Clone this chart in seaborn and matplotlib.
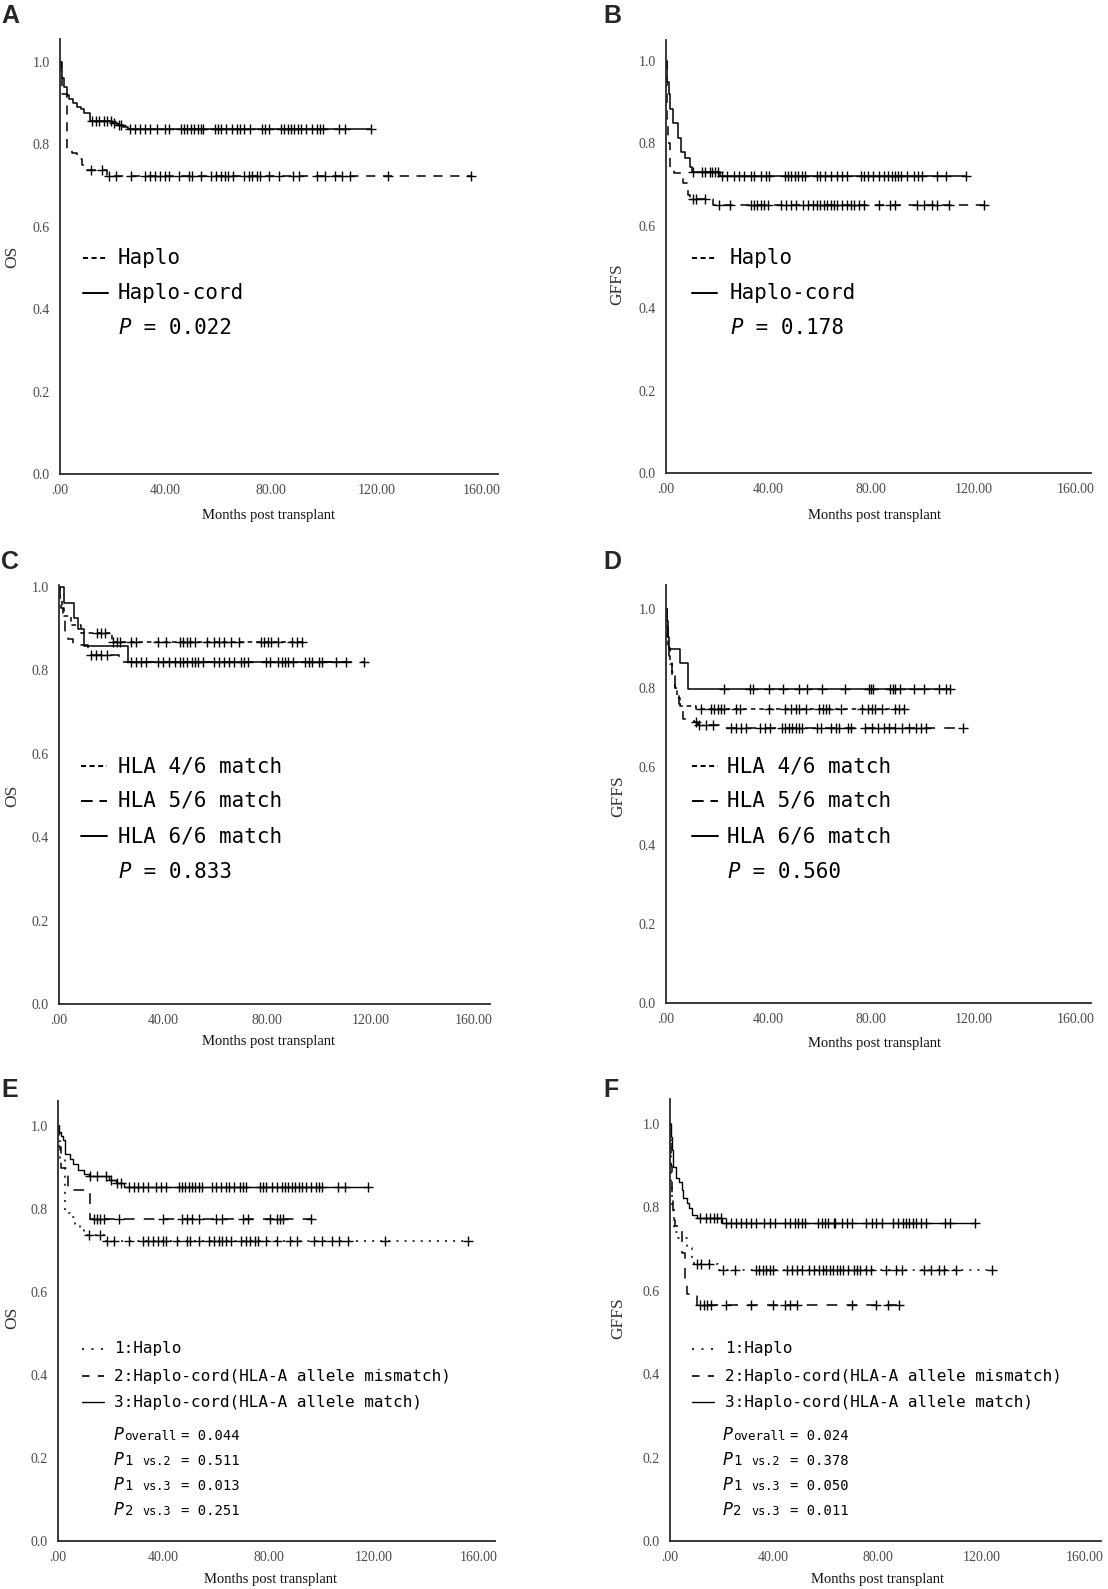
import matplotlib
matplotlib.use("Agg")
import matplotlib.pyplot as plt
from matplotlib.lines import Line2D
import numpy as np
import seaborn as sns

sns.set_style("white")
plt.rcParams['font.family'] = ['DejaVu Sans']

# ---------------- data ----------------
x_ticks = [0, 40, 80, 120, 160]
x_tick_labels = ['.00', '40.00', '80.00', '120.00', '160.00']
y_ticks = [0.0, 0.2, 0.4, 0.6, 0.8, 1.0]
y_tick_labels = ['0.0', '0.2', '0.4', '0.6', '0.8', '1.0']

# OS, Haplo (panels A and E)
os_haplo_t = [0.6, 2.8, 4.5, 6.5, 8.4, 10.0, 18.0]
os_haplo_s = [0.923, 0.79, 0.78, 0.765, 0.75, 0.738, 0.723]
os_haplo_c = [11.6, 16.1, 18.7, 21.3, 27.1, 32.2, 34.1, 36.1, 38.0, 39.9, 41.2, 45.1, 48.9,
              50.2, 53.5, 57.3, 59.3, 61.2, 62.5, 63.8, 65.7, 69.6, 71.5, 72.8, 74.7, 76.0,
              79.2, 83.1, 88.2, 90.8, 97.3, 100.5, 104.3, 106.9, 110.1, 124.3, 155.9]

# OS, Haplo-cord (panel A)
os_cord_t = [0.3, 0.8, 1.5, 2.5, 3.5, 5.0, 6.5, 8.0, 9.0, 11.5, 19.8, 21.5, 23.8, 25.8]
os_cord_s = [0.98, 0.96, 0.94, 0.92, 0.91, 0.90, 0.89, 0.885, 0.876, 0.858, 0.853, 0.848, 0.843, 0.838]
os_cord_c = [12.0, 13.5, 14.8, 16.7, 18.0, 19.3, 20.6, 22.2, 23.2, 26.4, 28.3, 30.3, 32.2, 34.1,
             36.7, 39.9, 41.2, 45.7, 47.0, 48.3, 49.6, 50.9, 52.2, 53.5, 54.1, 58.6, 59.9, 61.2,
             63.1, 65.1, 67.0, 68.3, 69.6, 72.1, 76.6, 77.9, 79.2, 83.7, 85.0, 86.3, 87.6, 88.9,
             90.2, 91.5, 93.4, 95.4, 97.3, 98.6, 99.8, 105.6, 108.2, 117.9]

# GFFS, Haplo (panels B and F)
gffs_haplo_t = [0.2, 0.8, 1.5, 3.2, 6.6, 8.6, 9.3, 18.5]
gffs_haplo_s = [0.86, 0.80, 0.74, 0.727, 0.703, 0.675, 0.665, 0.65]
gffs_haplo_c = [10.6, 11.9, 15.2, 20.5, 25.1, 33.1, 34.4, 35.7, 37.0, 38.4, 39.7, 45.0, 47.0,
                48.9, 50.9, 53.6, 55.6, 57.5, 58.9, 60.2, 61.5, 62.8, 64.2, 65.5, 66.8, 68.8,
                70.8, 72.1, 73.4, 75.4, 77.4, 83.3, 87.3, 89.3, 97.9, 100.5, 103.8, 105.8,
                110.4, 124.0]

# GFFS, Haplo-cord (panel B)
gffs_cord_t = [0.3, 1.0, 1.6, 2.6, 4.6, 6.0, 7.3, 9.3, 10.2, 21.2]
gffs_cord_s = [0.95, 0.92, 0.883, 0.85, 0.813, 0.78, 0.764, 0.743, 0.73, 0.72]
gffs_cord_c = [10.6, 13.9, 15.2, 17.2, 18.1, 19.2, 20.1, 21.8, 23.8, 26.5, 28.4, 30.4, 33.1,
               34.4, 37.0, 39.0, 40.3, 46.3, 47.6, 48.9, 50.3, 51.6, 52.9, 54.2, 58.9, 60.2,
               62.2, 64.2, 66.8, 68.8, 70.8, 76.1, 77.4, 78.7, 80.7, 83.3, 84.9, 86.6, 88.0,
               89.3, 90.6, 91.9, 93.9, 96.6, 98.5, 99.9, 105.8, 109.1, 117.0]

# OS by HLA match (panel C)
os_46_t = [0.5, 1.2, 2.0, 4.8, 8.5, 20.4]
os_46_s = [0.97, 0.95, 0.93, 0.91, 0.89, 0.867]
os_46_c = [14.5, 16.2, 17.8, 21.0, 22.4, 23.7, 27.6, 29.5, 38.0, 41.3, 46.5, 47.8, 49.2, 50.5,
           52.5, 57.0, 59.7, 61.6, 63.5, 66.2, 69.4, 77.9, 79.2, 80.5, 81.8, 84.4, 89.7, 91.6, 93.6]
os_56_t = [0.3, 0.8, 1.5, 2.5, 3.5, 5.5, 11.3, 23.0]
os_56_s = [0.97, 0.95, 0.925, 0.89, 0.875, 0.86, 0.836, 0.82]
os_56_c = [12.5, 14.2, 16.2, 18.4, 29.5, 31.5, 38.0, 42.6, 46.5, 49.2, 52.5, 55.7, 61.6, 65.5,
           70.0, 72.7, 81.2, 85.8, 88.4, 95.0, 97.5, 100.2, 106.7, 117.5]
os_66_t = [2.1, 5.8, 7.3, 9.7, 26.7]
os_66_s = [0.962, 0.926, 0.90, 0.858, 0.82]
os_66_c = [27.6, 33.5, 40.0, 44.6, 47.8, 51.1, 53.7, 59.7, 63.5, 67.5, 71.4, 79.9, 84.4, 87.1,
           90.4, 96.2, 101.4, 110.6]

# GFFS by HLA match (panel D)
gffs_46_t = [0.2, 0.5, 0.8, 1.6, 2.2, 3.5, 4.3, 5.3, 11.6]
gffs_46_s = [0.97, 0.93, 0.90, 0.86, 0.83, 0.80, 0.775, 0.755, 0.745]
gffs_46_c = [13.6, 17.6, 18.9, 20.2, 21.5, 22.8, 27.5, 28.8, 40.0, 46.6, 48.6, 50.6, 51.9, 54.5,
             59.8, 61.1, 62.4, 63.8, 68.4, 76.3, 78.9, 80.3, 81.6, 84.2, 89.5, 90.8, 92.8]
gffs_56_t = [0.3, 0.6, 1.2, 2.5, 3.7, 5.0, 6.5, 10.9, 12.5, 21.5]
gffs_56_s = [0.96, 0.92, 0.88, 0.84, 0.80, 0.76, 0.72, 0.713, 0.706, 0.698]
gffs_56_c = [11.6, 13.0, 15.5, 18.5, 25.5, 27.5, 29.4, 31.4, 36.7, 38.7, 40.7, 45.3, 46.6, 47.9,
             49.2, 50.6, 51.9, 53.2, 59.1, 60.5, 64.4, 66.4, 67.7, 71.0, 72.3, 77.6, 80.3, 82.9,
             84.9, 86.9, 89.5, 92.1, 94.8, 97.4, 99.4, 101.4, 116.0]
gffs_66_t = [0.3, 0.7, 1.1, 5.3, 8.7]
gffs_66_s = [0.97, 0.93, 0.898, 0.864, 0.796]
gffs_66_c = [22.8, 32.7, 34.1, 40.0, 45.7, 51.9, 55.2, 60.9, 69.7, 79.2, 80.0, 80.9, 87.5, 88.4,
             89.5, 91.5, 96.8, 100.7, 106.7, 109.3, 111.0]

# OS, Haplo-cord split by HLA-A allele (panel E)
os_mis_t = [0.3, 1.0, 3.9, 12.3]
os_mis_s = [0.95, 0.90, 0.846, 0.777]
os_mis_c = [13.5, 14.8, 16.1, 17.4, 23.2, 39.9, 47.0, 48.9, 50.9, 53.5, 59.9, 62.5, 70.2, 72.2,
            80.5, 83.1, 84.4, 85.7, 96.0]
os_match_t = [0.5, 1.2, 1.9, 2.6, 4.5, 5.8, 7.7, 9.7, 11.6, 19.3, 21.9, 25.1]
os_match_s = [0.985, 0.975, 0.967, 0.933, 0.92, 0.908, 0.893, 0.885, 0.879, 0.87, 0.862, 0.854]
os_match_c = [12.3, 14.8, 18.1, 20.1, 22.6, 24.0, 27.1, 29.0, 30.3, 32.2, 34.2, 37.4, 39.3, 41.2,
              45.8, 47.0, 48.3, 49.6, 50.9, 52.2, 53.5, 54.8, 58.6, 59.9, 61.8, 63.8, 65.1, 67.0,
              69.0, 70.2, 71.5, 76.7, 77.9, 79.2, 81.2, 83.1, 85.0, 86.3, 87.6, 88.9, 90.2, 91.5,
              92.8, 94.1, 96.0, 97.9, 99.2, 100.5, 106.3, 108.9, 117.9]

# GFFS, Haplo-cord split by HLA-A allele (panel F)
gffs_mis_t = [0.2, 0.6, 1.3, 2.0, 4.5, 5.8, 6.5, 10.4]
gffs_mis_s = [0.90, 0.82, 0.77, 0.755, 0.69, 0.62, 0.593, 0.565]
gffs_mis_c = [11.7, 13.0, 14.3, 15.9, 21.5, 31.2, 39.7, 44.2, 46.2, 48.8, 70.0, 79.3, 83.9, 88.4]
gffs_match_t = [0.26, 0.65, 1.3, 2.3, 3.6, 4.6, 5.2, 6.5, 7.5, 8.5, 10.4, 20.2]
gffs_match_s = [0.97, 0.938, 0.898, 0.87, 0.862, 0.842, 0.822, 0.81, 0.798, 0.782, 0.775, 0.763]
gffs_match_c = [11.4, 13.7, 15.6, 16.9, 18.2, 19.5, 21.5, 23.4, 25.4, 27.3, 29.3, 31.2, 33.2,
                36.4, 38.4, 40.3, 44.2, 46.2, 48.1, 49.4, 50.7, 52.0, 57.2, 58.5, 59.8, 61.1,
                63.1, 63.7, 66.3, 68.3, 70.2, 75.4, 78.0, 79.3, 81.9, 85.8, 87.8, 89.7, 91.0,
                92.3, 93.6, 94.9, 96.9, 98.8, 106.0, 107.9, 117.7]

two_group_labels = ['Haplo', 'Haplo-cord']
hla_labels = ['HLA 4/6 match', 'HLA 5/6 match', 'HLA 6/6 match']
allele_labels = ['1:Haplo', '2:Haplo-cord(HLA-A allele mismatch)', '3:Haplo-cord(HLA-A allele match)']
p_two = {'A': '0.022', 'B': '0.178', 'C': '0.833', 'D': '0.560'}
p_three_E = ['0.044', '0.511', '0.013', '0.251']
p_three_F = ['0.024', '0.378', '0.050', '0.011']
p_three_subs = [('overall', ''), ('1', 'vs.2'), ('1', 'vs.3'), ('2', 'vs.3')]

# ---------------- figure ----------------
W, H = 1108, 1589
fig = plt.figure(figsize=(W / 100, H / 100), dpi=100)

MONO = 'DejaVu Sans Mono'
SERIF = 'Liberation Serif'

DASH = (0, (6, 5))
SHORT = (0, (3, 2.5))
LONG = (0, (7, 6))
DOT = (0, (1.3, 4))


def fx(x):
    return x / W


def fy(y):
    return 1 - y / H


def make_axes(x0, x160, y0, y1, ytop, ylab, ylab_xy, xlab_xy):
    xmax = 166
    w = (x160 - x0) / 160 * xmax
    h = (y0 - y1) * ytop
    ax = fig.add_axes([x0 / W, (H - y0) / H, w / W, h / H])
    ax.set_xlim(0, xmax)
    ax.set_ylim(0, ytop)
    ax.set_xticks(x_ticks)
    ax.set_xticklabels(x_tick_labels, family=SERIF)
    ax.set_yticks(y_ticks)
    ax.set_yticklabels(y_tick_labels, family=SERIF)
    for s in ['top', 'right']:
        ax.spines[s].set_visible(False)
    for s in ['left', 'bottom']:
        ax.spines[s].set_color('#2a2a2a')
        ax.spines[s].set_linewidth(1.3)
    ax.tick_params(direction='out', length=6, width=1.2, color='#2a2a2a',
                   labelsize=10, labelcolor='#4a4a4a', pad=1.5)
    ax.set_xlabel('Months post transplant', fontsize=10.5, family=SERIF, color='#111111')
    ax.xaxis.set_label_coords((xlab_xy[0] - x0) / w, (y0 - xlab_xy[1]) / h)
    ax.xaxis.label.set_va('center')
    ax.set_ylabel(ylab, fontsize=12.5, family=SERIF, color='#333333')
    ax.yaxis.set_label_coords((ylab_xy[0] - x0) / w, (y0 - ylab_xy[1]) / h)
    ax.yaxis.label.set_va('center')
    ax.yaxis.label.set_ha('center')
    return ax


def km_curve(ax, times, surv, cens, ls, lw=1.1):
    x = [0.0] + list(times) + [max(cens)]
    y = [1.0] + list(surv) + [surv[-1]]
    sns.lineplot(x=x, y=y, ax=ax, color='black', linewidth=lw, linestyle=ls,
                 drawstyle='steps-post', estimator=None, sort=False, legend=False)
    idx = np.searchsorted(times, cens, side='right')
    sv = np.array([1.0] + list(surv))[idx]
    sns.scatterplot(x=cens, y=sv, ax=ax, marker='+', color='black', s=42,
                    linewidth=1.0, legend=False, zorder=4)


def legend_line(xa, xb, y, ls, lw=1.4):
    fig.add_artist(Line2D([fx(xa), fx(xb)], [fy(y), fy(y)], transform=fig.transFigure,
                          color='black', linewidth=lw, linestyle=ls))


def mono(x, y, s, size, va='center', **kw):
    fig.text(fx(x), fy(y), s, family=MONO, fontsize=size, va=va, ha='left', color='black', **kw)


def letter(x, y, s):
    fig.text(fx(x), fy(y), s, family='Liberation Sans', fontweight='bold', fontsize=18,
             va='center', ha='left')


def p_line(x, y, value):
    # italic P, then the rest one monospace cell further on
    mono(x, y, 'P', 15, style='italic')
    mono(x + 13, y, ' = ' + value, 15)


# ---- A ----
axA = make_axes(60, 482, 474, 62, 1.055, 'OS', (12.5, 257), (269, 515))
km_curve(axA, os_haplo_t, os_haplo_s, os_haplo_c, DASH)
km_curve(axA, os_cord_t, os_cord_s, os_cord_c, '-')
letter(1, 16, 'A')

# ---- B ----
axB = make_axes(666, 1076, 473, 61, 1.052, 'GFFS', (617, 284), (875, 515))
km_curve(axB, gffs_haplo_t, gffs_haplo_s, gffs_haplo_c, DASH)
km_curve(axB, gffs_cord_t, gffs_cord_s, gffs_cord_c, '-')
letter(603, 16, 'B')

# two-group legends
for (lx, tx, rows), key in [((83, 118, (258, 293, 328)), 'A'), ((692, 730, (258, 293, 328)), 'B')]:
    legend_line(lx, lx + 25, rows[0], (0, (2.6, 1.8)))
    legend_line(lx, lx + 25, rows[1], '-')
    mono(tx, rows[0], two_group_labels[0], 15)
    mono(tx, rows[1], two_group_labels[1], 15)
    p_line(tx, rows[2], p_two[key])

# ---- C ----
axC = make_axes(59, 474, 1004, 587, 1.004, 'OS', (12, 796), (268, 1042))
km_curve(axC, os_46_t, os_46_s, os_46_c, SHORT)
km_curve(axC, os_56_t, os_56_s, os_56_c, LONG)
km_curve(axC, os_66_t, os_66_s, os_66_c, '-')
letter(1, 562, 'C')

# ---- D ----
axD = make_axes(666, 1076, 1003, 609, 1.06, 'GFFS', (618, 796), (875, 1043))
km_curve(axD, gffs_46_t, gffs_46_s, gffs_46_c, SHORT)
km_curve(axD, gffs_56_t, gffs_56_s, gffs_56_c, LONG)
km_curve(axD, gffs_66_t, gffs_66_s, gffs_66_c, '-')
letter(603, 562, 'D')

for (lx, tx), key in [((81, 118), 'C'), ((692, 727), 'D')]:
    rows = (766, 801, 836, 872)
    legend_line(lx, lx + 26, rows[0], (0, (2.6, 1.8)))
    legend_line(lx, lx + 26, rows[1], (0, (6, 3.5)))
    legend_line(lx, lx + 26, rows[2], '-')
    for r, lab in zip(rows[:3], hla_labels):
        mono(tx, r, lab, 15)
    p_line(tx, rows[3], p_two[key])

# ---- E ----
axE = make_axes(58, 479, 1541, 1126, 1.06, 'OS', (12, 1318), (270, 1580))
km_curve(axE, os_haplo_t, os_haplo_s, os_haplo_c, DOT)
km_curve(axE, os_mis_t, os_mis_s, os_mis_c, LONG)
km_curve(axE, os_match_t, os_match_s, os_match_c, '-', lw=1.0)
letter(1, 1090, 'E')

# ---- F ----
axF = make_axes(670, 1085, 1541, 1124, 1.06, 'GFFS', (618, 1318), (877, 1580))
km_curve(axF, gffs_haplo_t, gffs_haplo_s, gffs_haplo_c, DOT)
km_curve(axF, gffs_mis_t, gffs_mis_s, gffs_mis_c, LONG)
km_curve(axF, gffs_match_t, gffs_match_s, gffs_match_c, '-', lw=1.0)
letter(603, 1090, 'F')

for (lx, tx, px), pvals in [((82, 114, 114), p_three_E), ((692, 725, 723), p_three_F)]:
    rows = (1349, 1376, 1402)
    legend_line(lx, lx + 22, rows[0], (0, (1.2, 4.5)), lw=1.2)
    legend_line(lx, lx + 22, rows[1], (0, (4.5, 5)), lw=1.2)
    legend_line(lx, lx + 22, rows[2], '-', lw=1.0)
    for r, lab in zip(rows, allele_labels):
        mono(tx, r, lab, 11.5)
    for i, ((sub1, sub2), pv) in enumerate(zip(p_three_subs, pvals)):
        base = 1440 + 25 * i
        mono(px, base, 'P', 12, va='baseline', style='italic')
        if sub1 == 'overall':
            mono(px + 10, base, sub1, 9, va='baseline')
        else:
            mono(px + 10.5, base, sub1, 10, va='baseline')
            mono(px + 28, base, sub2, 8.5, va='baseline')
        mono(px + 67, base, '= ' + pv, 10, va='baseline')

fig.savefig('out.png', dpi=100)
